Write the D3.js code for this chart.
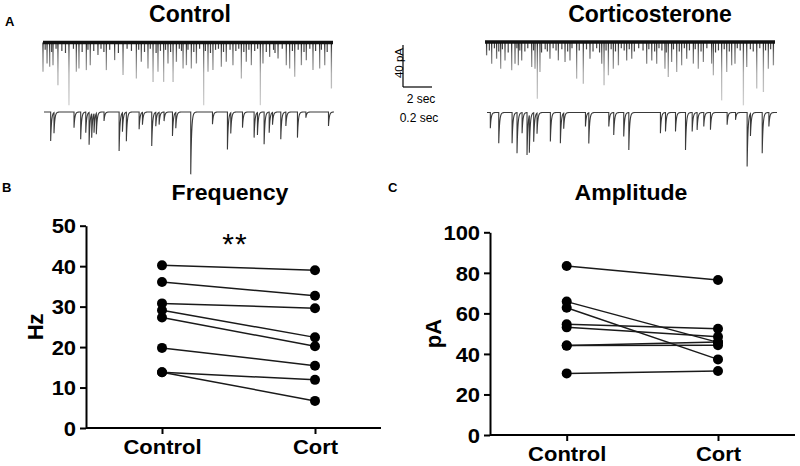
<!DOCTYPE html>
<html><head><meta charset="utf-8">
<script src="https://cdn.jsdelivr.net/npm/d3@7"></script>
<style>
body{margin:0;background:#fff}
svg{display:block}
text{font-family:"Liberation Sans",Arial,sans-serif}
</style>
</head><body>
<svg id="c" width="800" height="466"></svg>
<script>
// ---------- DATA ----------
const groups = ["Control", "Cort"];
const freqControl = [40.2, 36.1, 30.8, 29.1, 27.3, 19.8, 13.8, 13.8];
const freqCort    = [39.0, 32.7, 29.6, 22.4, 20.2, 15.4, 11.9, 6.7];
const ampControl  = [83.4, 65.8, 62.8, 54.6, 53.1, 44.1, 44.1, 30.4];
const ampCort     = [76.5, 45.7, 37.3, 52.4, 48.5, 44.3, 45.9, 31.6];
const freqTicks = [0, 10, 20, 30, 40, 50];
const ampTicks  = [0, 20, 40, 60, 80, 100];

// sEPSC event lists: [time (s), amplitude (pA)]
const ctrlTop = [[0.0,27.9],[0.28,20],[0.46,23],[0.69,21.6],[1.03,40.6],[1.79,59.7],[2.30,27.9],[2.48,24.8],[2.99,26.3],[3.26,21.6],[3.79,12],[4.37,26.3],[4.94,16.8],[5.52,31],[6.44,34.3],[6.78,18.4],[7.24,24.8],[7.59,37.5],[7.93,27.9],[8.32,37.5],[8.62,20],[8.97,37.5],[9.20,18.4],[9.66,24.8],[9.89,21.6],[10.23,24.8],[10.58,20],[11.08,59.7],[11.38,27.9],[11.72,26.3],[12.30,23.2],[12.64,18.4],[13.10,21.6],[13.68,34.3],[14.02,18.4],[14.37,21.6],[14.99,59.7],[15.17,20],[15.63,13.7],[16.21,15.2],[16.78,21.6],[17.01,24.8],[17.36,32.7],[17.82,21.6],[18.16,16.8],[18.62,26.3],[19.08,24.8],[19.43,21.6],[19.89,43.8]];
const ctrlTopSmall = [[0.15,7],[0.6,9],[0.9,6],[1.3,8],[1.55,10],[2.1,6],[2.7,9],[3.1,7],[3.5,8],[4.0,6],[4.2,9],[4.6,7],[5.2,10],[5.8,6],[6.1,8],[6.6,7],[7.0,9],[7.4,6],[7.8,10],[8.1,8],[8.45,7],[8.8,9],[9.4,6],[9.55,8],[10.0,7],[10.4,9],[10.8,6],[11.2,8],[11.55,10],[11.9,7],[12.1,6],[12.45,9],[12.9,7],[13.3,8],[13.5,6],[13.85,9],[14.2,7],[14.6,8],[14.8,6],[15.4,9],[15.9,7],[16.0,10],[16.5,6],[17.2,8],[17.6,7],[18.0,9],[18.4,6],[18.8,8],[19.2,7],[19.6,9]];
const ctrlBottom = [[0.046,27.6],[0.069,19.7],[0.207,14.9],[0.253,26],[0.288,19.7],[0.311,30.8],[0.329,22.9],[0.345,18.1],[0.361,19.7],[0.414,8.6],[0.518,37.1],[0.541,18.1],[0.568,27.6],[0.656,16.5],[0.679,11.7],[0.743,32.4],[0.771,13.3],[0.794,11.7],[0.828,8.6],[0.886,22.9],[0.909,14.9],[1.012,59.4],[1.162,11.7],[1.265,35.6],[1.288,19.7],[1.369,14.9],[1.449,24.4],[1.472,21.3],[1.518,30.8],[1.553,19.7],[1.576,11.7],[1.633,26],[1.668,13.3],[1.748,24.4],[1.806,5.4],[1.962,13.3]];
const cortTop = [[0.11,12.7],[0.46,20.6],[0.80,15.9],[1.08,25.4],[1.38,17.5],[1.84,27],[2.07,20.6],[2.30,22.2],[2.53,17.5],[3.22,23.8],[3.45,25.4],[3.61,54],[3.79,28.6],[4.48,15.9],[5.06,17.5],[5.52,19],[5.86,17.5],[6.32,34.9],[6.78,39.7],[7.24,15.9],[8.05,20.6],[8.21,41.3],[8.51,31.7],[8.85,25.4],[9.20,22.2],[9.77,17.5],[10.12,15.9],[11.15,20.6],[11.50,17.5],[11.84,20.6],[12.41,25.4],[12.64,33.3],[12.87,19],[13.22,28.6],[13.56,22.2],[13.91,15.9],[14.37,20.6],[14.71,25.4],[15.06,19],[15.63,20.6],[15.75,31.7],[16.32,55.6],[16.67,28.6],[17.01,22.2],[17.24,20.6],[17.82,60.3],[18.05,23.8],[18.74,44.4],[19.20,47.6],[19.54,25.4],[19.89,22.2]];
const cortTopSmall = [[0.3,8],[0.65,6],[0.95,9],[1.2,7],[1.6,10],[2.2,6],[2.4,8],[2.75,9],[2.95,6],[3.35,8],[3.9,10],[4.15,7],[4.3,9],[4.7,6],[4.9,8],[5.3,7],[5.7,9],[6.0,6],[6.5,8],[7.0,7],[7.45,9],[7.7,6],[7.9,10],[8.35,8],[8.7,7],[9.0,9],[9.4,6],[9.6,8],[9.95,7],[10.3,9],[10.6,6],[10.9,8],[11.3,7],[11.7,9],[12.0,6],[12.2,8],[12.5,10],[13.0,7],[13.4,9],[13.75,6],[14.1,8],[14.5,7],[14.9,9],[15.3,6],[15.9,10],[16.1,8],[16.5,7],[16.85,9],[17.4,6],[17.6,8],[18.3,7],[18.5,9],[18.95,6],[19.35,8],[19.7,7]];
const cortBottom = [[0.023,14.9],[0.081,29.2],[0.173,29.2],[0.207,38.7],[0.242,19.7],[0.276,40.3],[0.292,35.6],[0.322,27.6],[0.345,19.7],[0.437,27.6],[0.506,29.2],[0.529,14.9],[0.679,13.3],[0.702,29.2],[0.840,13.3],[0.874,21.3],[0.943,22.9],[0.978,35.6],[1.196,19.7],[1.231,18.1],[1.300,18.1],[1.369,35.6],[1.415,18.1],[1.449,16.5],[1.495,13.3],[1.541,16.5],[1.656,11.7],[1.714,7],[1.794,51.4],[1.817,21.3],[1.898,38.7],[1.944,13.3]];

// ---------- DRAW ----------
const svg = d3.select("#c");
const defs = svg.append("defs");
const grad = defs.append("linearGradient").attr("id","spk")
  .attr("gradientUnits","userSpaceOnUse").attr("x1",0).attr("x2",0).attr("y1",0).attr("y2",62);
grad.append("stop").attr("offset",0).attr("stop-color","#222");
grad.append("stop").attr("offset",0.18).attr("stop-color","#6a6a6a");
grad.append("stop").attr("offset",0.5).attr("stop-color","#b0b0b0");
grad.append("stop").attr("offset",1).attr("stop-color","#d0d0d0");

const tTop = d3.scaleLinear().domain([0,20]).range([0,290]);
const tBot = d3.scaleLinear().domain([0,2]).range([0,290]);
const pA = d3.scaleLinear().domain([0,40]).range([0,42]);

function drawTop(ev, small, x0, y0){
  const g = svg.append("g").attr("transform",`translate(${x0},${y0})`);
  g.selectAll("line.ev").data(ev).join("line").attr("class","ev")
    .attr("x1",d=>tTop(d[0])).attr("x2",d=>tTop(d[0]))
    .attr("y1",0).attr("y2",d=>pA(d[1]))
    .attr("stroke","url(#spk)").attr("stroke-width",1.3);
  g.selectAll("line.sm").data(small).join("line").attr("class","sm")
    .attr("x1",d=>tTop(d[0])).attr("x2",d=>tTop(d[0]))
    .attr("y1",0).attr("y2",d=>pA(d[1]))
    .attr("stroke","#444").attr("stroke-width",1.2);
  g.append("line").attr("x1",0).attr("x2",290).attr("y1",0).attr("y2",0)
    .attr("stroke","#111").attr("stroke-width",3.5);
}
function drawBottom(ev, x0, y0){
  const g = svg.append("g").attr("transform",`translate(${x0},${y0})`);
  const tau = 0.006;
  const val = (t, incl) => { let v = 0; for (const [te,a] of ev){ if (incl ? te<=t : te<t) v += a*Math.exp(-(t-te)/tau); } return v; };
  const pts = d3.range(0, 2.0001, 0.0005).map(t=>[t, val(t,true)]);
  ev.forEach(([te])=>{ pts.push([te-1e-6, val(te,false)]); pts.push([te, val(te,true)]); });
  pts.sort((a,b)=>a[0]-b[0]);
  g.append("path").datum(pts)
    .attr("d", d3.line().x(d=>tBot(d[0])).y(d=>pA(d[1])))
    .attr("fill","none").attr("stroke","#3a3a3a").attr("stroke-width",1.1);
}

drawTop(ctrlTop, ctrlTopSmall, 43, 42.5);
drawBottom(ctrlBottom, 44, 112);
drawTop(cortTop, cortTopSmall, 485, 42);
drawBottom(cortBottom, 487, 112.5);

// Titles top
svg.append("text").attr("x",5).attr("y",26).attr("font-size",13).attr("font-weight","bold").text("A");
svg.append("text").attr("x",190).attr("y",22).attr("text-anchor","middle").attr("font-size",23).attr("font-weight","bold").text("Control");
svg.append("text").attr("x",650).attr("y",22).attr("text-anchor","middle").attr("font-size",23).attr("font-weight","bold").text("Corticosterone");

// Scale bar
const sb = svg.append("g").attr("transform","translate(403,87)");
sb.append("line").attr("x1",0).attr("x2",0).attr("y1",0).attr("y2",-pA(40)).attr("stroke","#000").attr("stroke-width",1.2);
sb.append("line").attr("x1",0).attr("x2",tTop(2)).attr("y1",0).attr("y2",0).attr("stroke","#000").attr("stroke-width",1.2);
sb.append("text").attr("transform","translate(0,-24) rotate(-90)").attr("text-anchor","middle")
  .attr("font-family","'Open Sans','DejaVu Sans',sans-serif").attr("font-size",11.5).text("40 pA");
svg.append("text").attr("x",421).attr("y",103).attr("text-anchor","middle")
  .attr("font-family","'Open Sans','DejaVu Sans',sans-serif").attr("font-size",12).text("2 sec");
svg.append("text").attr("x",419).attr("y",122).attr("text-anchor","middle")
  .attr("font-family","'Open Sans','DejaVu Sans',sans-serif").attr("font-size",12).text("0.2 sec");

// Paired panels
function panel(opts){
  const {left,right,top,bottom,domainMax,ticks,ctrl,cort,title,titleX,ylabel,ylabelX,letter,letterX,xC,xR,stars} = opts;
  const y = d3.scaleLinear().domain([0,domainMax]).range([bottom,top]);
  const x = d3.scalePoint().domain(groups).range([xC,xR]);
  const g = svg.append("g");
  const ya = g.append("g").attr("transform",`translate(${left},0)`)
    .call(d3.axisLeft(y).tickValues(ticks).tickSize(6).tickPadding(3).tickSizeOuter(0));
  ya.select(".domain").attr("stroke","#000").attr("stroke-width",2);
  ya.selectAll(".tick line").attr("stroke","#000").attr("stroke-width",2);
  ya.selectAll(".tick text").attr("font-size",20).attr("font-weight","bold").attr("fill","#000")
    .attr("font-family","'Liberation Sans',Arial,sans-serif").attr("transform","scale(1.1,1)").attr("dy","0.36em");
  const xa = g.append("g").attr("transform",`translate(0,${bottom})`)
    .call(d3.axisBottom(x).tickSize(6).tickPadding(6).tickSizeOuter(0));
  xa.select(".domain").remove();
  xa.append("line").attr("x1",left).attr("x2",right).attr("y1",0).attr("y2",0).attr("stroke","#000").attr("stroke-width",2);
  xa.selectAll(".tick line").attr("stroke","#000").attr("stroke-width",2);
  xa.selectAll(".tick text").attr("font-size",20).attr("font-weight","bold").attr("fill","#000")
    .attr("font-family","'Liberation Sans',Arial,sans-serif").attr("transform","scale(1.1,1)");
  const pairs = ctrl.map((v,i)=>[v,cort[i]]);
  g.selectAll("line.pair").data(pairs).join("line").attr("class","pair")
    .attr("x1",x("Control")).attr("x2",x("Cort"))
    .attr("y1",d=>y(d[0])).attr("y2",d=>y(d[1]))
    .attr("stroke","#1a1a1a").attr("stroke-width",1.5);
  g.selectAll("circle.c").data(ctrl).join("circle").attr("class","c")
    .attr("cx",x("Control")).attr("cy",d=>y(d)).attr("r",5).attr("fill","#000");
  g.selectAll("circle.k").data(cort).join("circle").attr("class","k")
    .attr("cx",x("Cort")).attr("cy",d=>y(d)).attr("r",5).attr("fill","#000");
  g.append("text").attr("x",titleX).attr("y",200).attr("text-anchor","middle").attr("font-size",22)
    .attr("font-weight","bold").attr("transform",`translate(${titleX},0) scale(1.05,1) translate(${-titleX},0)`).text(title);
  g.append("text").attr("transform",`translate(${ylabelX},${(top+bottom)/2}) rotate(-90)`)
    .attr("text-anchor","middle").attr("font-size",22).attr("font-weight","bold").text(ylabel);
  g.append("text").attr("x",letterX).attr("y",192).attr("font-size",13).attr("font-weight","bold").text(letter);
  if (stars) g.append("text").attr("x",stars[0]).attr("y",stars[1]).attr("text-anchor","middle")
    .attr("font-size",30).attr("letter-spacing",1).text("**");
}
panel({left:86,right:381,top:225.7,bottom:428,domainMax:50,ticks:freqTicks,ctrl:freqControl,cort:freqCort,
  title:"Frequency",titleX:230,ylabel:"Hz",ylabelX:43,letter:"B",letterX:2,xC:162,xR:315,stars:[235,254]});
panel({left:490,right:795,top:232.3,bottom:435,domainMax:100,ticks:ampTicks,ctrl:ampControl,cort:ampCort,
  title:"Amplitude",titleX:631,ylabel:"pA",ylabelX:441,letter:"C",letterX:388,xC:566.7,xR:718});
</script>
</body></html>
